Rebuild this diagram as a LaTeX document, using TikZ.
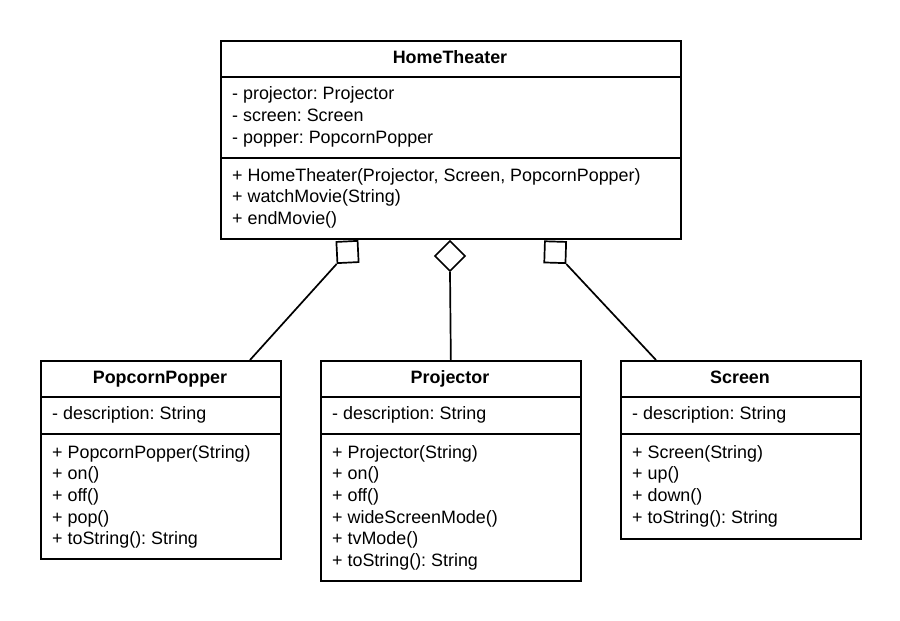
\documentclass[tikz,border=0pt]{standalone}
\usepackage{fontspec}
\setmainfont{Liberation Sans}
\frenchspacing
\begin{document}
\begin{tikzpicture}[x=1pt,y=-1pt,
  every node/.style={font=\fontsize{17.9}{21.6}\selectfont},
  classbox/.style={draw, line width=1.7pt, anchor=north west, inner sep=0pt, fill=white},
  members/.style={anchor=west, align=left, inner sep=0pt},
  ctitle/.style={font=\fontsize{17.9}{21.6}\selectfont\bfseries, inner sep=0pt, anchor=base},
  agg/.style={draw, line width=1.7pt, fill=white, minimum size=21.2pt, inner sep=0pt, shape=rectangle},
  conn/.style={line width=1.7pt}]
\useasboundingbox (0,0) rectangle (900,621);

% HomeTheater
\node[classbox, minimum width=460pt, minimum height=198pt] (ht) at (220,40) {};
\node[ctitle] (htt) at (450,63.3) {HomeTheater};
\draw[conn] (ht.west |- 0,77) -- (ht.east |- 0,77);
\draw[conn] (ht.west |- 0,158) -- (ht.east |- 0,158);
\node[members] (hta) at (232,116.8) {- projector: Projector\\- screen: Screen\\- popper: PopcornPopper};
\node[members] (htm) at (232,198.3) {+ HomeTheater(Projector, Screen, PopcornPopper)\\+ watchMovie(String)\\+ endMovie()};

% PopcornPopper
\node[classbox, minimum width=240pt, minimum height=198pt] (pp) at (40,360) {};
\node[ctitle] (ppt) at (160,383.3) {PopcornPopper};
\draw[conn] (pp.west |- 0,397) -- (pp.east |- 0,397);
\draw[conn] (pp.west |- 0,434) -- (pp.east |- 0,434);
\node[members] (ppa) at (52,415.3) {- description: String};
\node[members] (ppm) at (52,496.8) {+ PopcornPopper(String)\\+ on()\\+ off()\\+ pop()\\+ toString(): String};

% Projector
\node[classbox, minimum width=260pt, minimum height=220pt] (pj) at (320,360) {};
\node[ctitle] (pjt) at (450,383.3) {Projector};
\draw[conn] (pj.west |- 0,397) -- (pj.east |- 0,397);
\draw[conn] (pj.west |- 0,434) -- (pj.east |- 0,434);
\node[members] (pja) at (332,415.3) {- description: String};
\node[members] (pjm) at (332,507.6) {+ Projector(String)\\+ on()\\+ off()\\+ wideScreenMode()\\+ tvMode()\\+ toString(): String};

% Screen
\node[classbox, minimum width=240pt, minimum height=178pt] (sc) at (620,360) {};
\node[ctitle] (sct) at (740,383.3) {Screen};
\draw[conn] (sc.west |- 0,397) -- (sc.east |- 0,397);
\draw[conn] (sc.west |- 0,434) -- (sc.east |- 0,434);
\node[members] (sca) at (632,415.3) {- description: String};
\node[members] (scm) at (632,486) {+ Screen(String)\\+ up()\\+ down()\\+ toString(): String};

% aggregation markers
\node[agg, rotate=2.8] (ml) at (347.5,252) {};
\node[agg, rotate=45] (mc) at (450,256) {};
\node[agg, rotate=-1.8] (mr) at (555.2,252.2) {};

% connectors
\draw[conn] (ml.south west) -- (pp.north -| 250,0);
\draw[conn] (mc.south west) -- (pj.north);
\draw[conn] (mr.south east) -- (sc.north -| 656,0);
\end{tikzpicture}
\end{document}
